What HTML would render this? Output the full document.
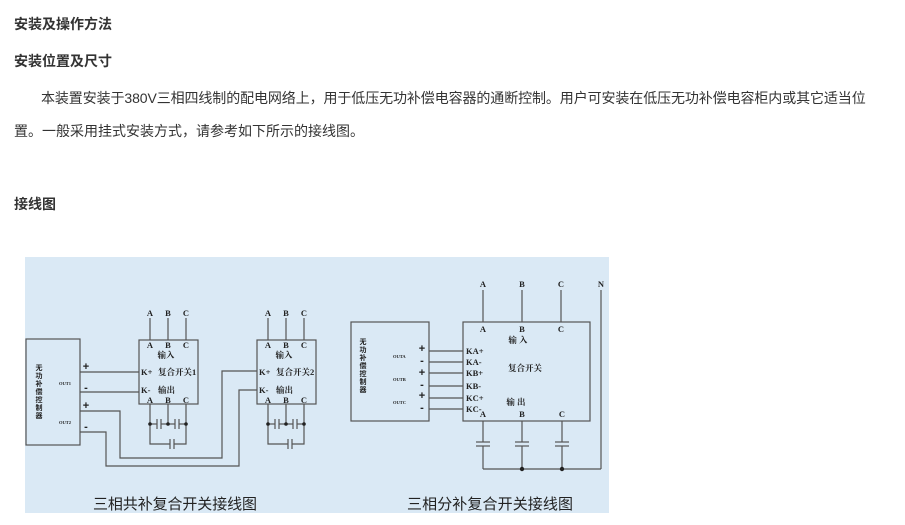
<!DOCTYPE html>
<html><head><meta charset="utf-8"><style>
body{margin:0;width:905px;height:525px;background:#fff;position:relative;overflow:hidden;font-family:"Liberation Sans","Noto Sans CJK SC",sans-serif;color:#333;}
.t{position:absolute;left:14px;font-size:14px;white-space:nowrap;}
.b{font-weight:bold;}
svg{position:absolute;left:0;top:0;}
</style></head><body>
<div class="t b" style="top:14px">安装及操作方法</div>
<div class="t b" style="top:51px">安装位置及尺寸</div>
<div class="t" style="top:88px;left:41px;letter-spacing:-0.1px">本装置安装于380V三相四线制的配电网络上，用于低压无功补偿电容器的通断控制。用户可安装在低压无功补偿电容柜内或其它适当位</div>
<div class="t" style="top:121px">置。一般采用挂式安装方式，请参考如下所示的接线图。</div>
<div class="t b" style="top:194px">接线图</div>
<svg width="905" height="525" xmlns="http://www.w3.org/2000/svg" font-family="Liberation Serif, Noto Serif CJK SC, serif" fill="#222">
<rect x="25" y="257" width="584" height="256" fill="#dae9f5"/>
<g stroke="#555" stroke-width="1.2" fill="none">
<rect x="26" y="339" width="54" height="106"/>
<line x1="80" y1="372" x2="139" y2="372"/>
<line x1="80" y1="392" x2="139" y2="392"/>
<polyline points="80,411 120,411 120,458 222,458 222,371 257,371"/>
<polyline points="80,432 106,432 106,466 239,466 239,390 257,390"/>
<rect x="139" y="340" width="59" height="64"/>
<rect x="257" y="340" width="59" height="64"/>
<line x1="150" y1="318" x2="150" y2="340"/><line x1="168" y1="318" x2="168" y2="340"/><line x1="186" y1="318" x2="186" y2="340"/>
<line x1="268" y1="318" x2="268" y2="340"/><line x1="286" y1="318" x2="286" y2="340"/><line x1="304" y1="318" x2="304" y2="340"/>
<polyline points="150,404 150,444 170,444"/><polyline points="174,444 186,444 186,404"/>
<line x1="168" y1="404" x2="168" y2="424"/>
<line x1="150" y1="424" x2="157" y2="424"/><line x1="161" y1="424" x2="175" y2="424"/><line x1="179" y1="424" x2="186" y2="424"/>
<line x1="157" y1="419" x2="157" y2="429"/><line x1="161" y1="419" x2="161" y2="429"/>
<line x1="175" y1="419" x2="175" y2="429"/><line x1="179" y1="419" x2="179" y2="429"/>
<line x1="170" y1="439" x2="170" y2="449"/><line x1="174" y1="439" x2="174" y2="449"/>
<polyline points="268,404 268,444 288,444"/><polyline points="292,444 304,444 304,404"/>
<line x1="286" y1="404" x2="286" y2="424"/>
<line x1="268" y1="424" x2="275" y2="424"/><line x1="279" y1="424" x2="293" y2="424"/><line x1="297" y1="424" x2="304" y2="424"/>
<line x1="275" y1="419" x2="275" y2="429"/><line x1="279" y1="419" x2="279" y2="429"/>
<line x1="293" y1="419" x2="293" y2="429"/><line x1="297" y1="419" x2="297" y2="429"/>
<line x1="288" y1="439" x2="288" y2="449"/><line x1="292" y1="439" x2="292" y2="449"/>
<rect x="351" y="322" width="78" height="99"/>
<rect x="463" y="322" width="127" height="99"/>
<line x1="429" y1="351" x2="463" y2="351"/><line x1="429" y1="362" x2="463" y2="362"/>
<line x1="429" y1="373" x2="463" y2="373"/><line x1="429" y1="386" x2="463" y2="386"/>
<line x1="429" y1="398" x2="463" y2="398"/><line x1="429" y1="409" x2="463" y2="409"/>
<line x1="483" y1="290" x2="483" y2="322"/><line x1="522" y1="290" x2="522" y2="322"/><line x1="561" y1="290" x2="561" y2="322"/>
<line x1="601" y1="290" x2="601" y2="469"/>
<line x1="483" y1="421" x2="483" y2="442"/><line x1="483" y1="446" x2="483" y2="469"/>
<line x1="522" y1="421" x2="522" y2="442"/><line x1="522" y1="446" x2="522" y2="469"/>
<line x1="562" y1="421" x2="562" y2="442"/><line x1="562" y1="446" x2="562" y2="469"/>
<line x1="476" y1="442" x2="490" y2="442"/><line x1="476" y1="446" x2="490" y2="446"/>
<line x1="515" y1="442" x2="529" y2="442"/><line x1="515" y1="446" x2="529" y2="446"/>
<line x1="555" y1="442" x2="569" y2="442"/><line x1="555" y1="446" x2="569" y2="446"/>
<line x1="483" y1="469" x2="601" y2="469"/>
</g>
<g fill="#222">
<circle cx="150" cy="424" r="1.8"/><circle cx="168" cy="424" r="1.8"/><circle cx="186" cy="424" r="1.8"/>
<circle cx="268" cy="424" r="1.8"/><circle cx="286" cy="424" r="1.8"/><circle cx="304" cy="424" r="1.8"/>
<circle cx="522" cy="469" r="2.2"/><circle cx="562" cy="469" r="2.2"/>
</g>
<g font-size="8.5" font-weight="bold" text-anchor="middle">
<text x="150" y="316">A</text><text x="168" y="316">B</text><text x="186" y="316">C</text>
<text x="268" y="316">A</text><text x="286" y="316">B</text><text x="304" y="316">C</text>
<text x="150" y="348">A</text><text x="168" y="348">B</text><text x="186" y="348">C</text>
<text x="268" y="348">A</text><text x="286" y="348">B</text><text x="304" y="348">C</text>
<text x="150" y="403">A</text><text x="168" y="403">B</text><text x="186" y="403">C</text>
<text x="268" y="403">A</text><text x="286" y="403">B</text><text x="304" y="403">C</text>
<text x="166" y="358">输入</text><text x="284" y="358">输入</text>
<text x="483" y="287">A</text><text x="522" y="287">B</text><text x="561" y="287">C</text><text x="601" y="287">N</text>
<text x="483" y="332">A</text><text x="522" y="332">B</text><text x="561" y="332">C</text>
<text x="483" y="417">A</text><text x="522" y="417">B</text><text x="562" y="417">C</text>
<text x="518" y="343">输 入</text><text x="525" y="371">复合开关</text><text x="516" y="405">输 出</text>
</g>
<g font-size="11" font-weight="bold" text-anchor="middle" font-family="Liberation Sans, sans-serif">
<text x="86" y="370">+</text><text x="86" y="391">-</text><text x="86" y="409">+</text><text x="86" y="430">-</text>
<text x="422" y="352">+</text><text x="422" y="364">-</text><text x="422" y="376">+</text><text x="422" y="388">-</text><text x="422" y="399">+</text><text x="422" y="411">-</text>
</g>
<g font-size="8.5" font-weight="bold">
<text x="141" y="375">K+</text><text x="158" y="375">复合开关1</text>
<text x="141" y="393">K-</text><text x="158" y="393">输出</text>
<text x="259" y="375">K+</text><text x="276" y="375">复合开关2</text>
<text x="259" y="393">K-</text><text x="276" y="393">输出</text>
<text x="466" y="354">KA+</text><text x="466" y="365">KA-</text><text x="466" y="376">KB+</text>
<text x="466" y="389">KB-</text><text x="466" y="401">KC+</text><text x="466" y="412">KC-</text>
</g>
<g font-size="4.5" font-weight="bold">
<text x="59" y="385">OUT1</text><text x="59" y="424">OUT2</text>
<text x="393" y="358">OUTA</text><text x="393" y="381">OUTB</text><text x="393" y="404">OUTC</text>
</g>
<g font-size="7" font-weight="bold" text-anchor="middle" font-family="Noto Sans CJK SC, sans-serif">
<text x="39" y="370">无</text><text x="39" y="378">功</text><text x="39" y="386">补</text><text x="39" y="394">偿</text><text x="39" y="402">控</text><text x="39" y="410">制</text><text x="39" y="418">器</text>
<text x="363" y="344">无</text><text x="363" y="352">功</text><text x="363" y="360">补</text><text x="363" y="368">偿</text><text x="363" y="376">控</text><text x="363" y="384">制</text><text x="363" y="392">器</text>
</g>
<g font-size="15" font-family="Noto Sans CJK SC, sans-serif" fill="#222">
<text x="93" y="509" textLength="164">三相共补复合开关接线图</text>
<text x="407" y="509" textLength="166">三相分补复合开关接线图</text>
</g>
</svg>
</body></html>
